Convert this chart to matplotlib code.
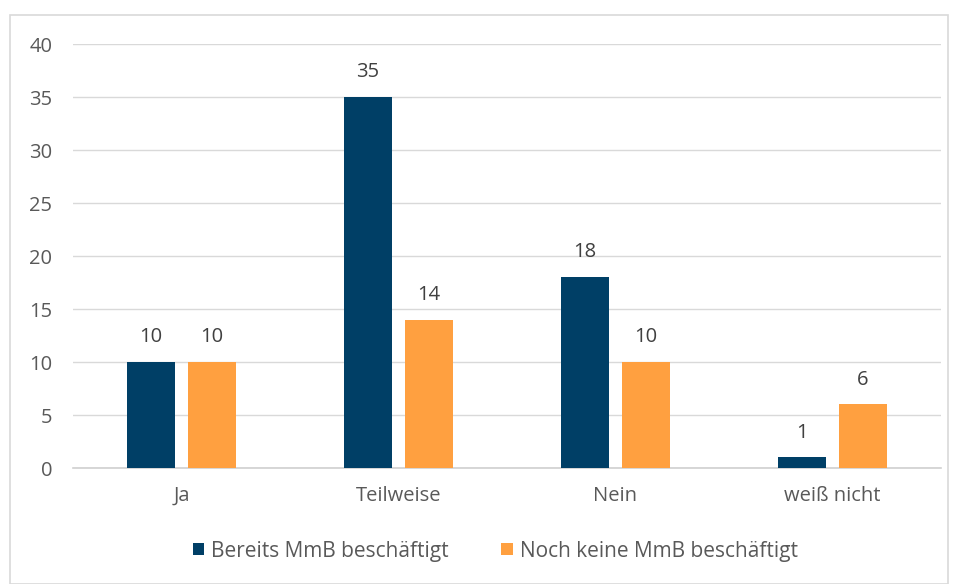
import matplotlib.pyplot as plt
import matplotlib.patches as mpatches
import numpy as np

# Daten
kategorien = ["Ja", "Teilweise", "Nein", "weiß nicht"]
bereits = [10, 35, 18, 1]
noch_keine = [10, 14, 10, 6]
serien = ["Bereits MmB beschäftigt", "Noch keine MmB beschäftigt"]

blau = "#003F66"
orange = "#FFA040"
grau = "#595959"

plt.rcParams['font.family'] = ['Open Sans', 'DejaVu Sans']
fs = 14.5

fig = plt.figure(figsize=(9.58, 5.84), dpi=100)
ax = fig.add_axes([0.0762, 0.1986, 0.906, 0.726])

# Rahmen um das Diagramm
fig.patches.append(mpatches.Rectangle((10 / 958, 0), 938 / 958, 1 - 15 / 584,
                                      transform=fig.transFigure, fill=False,
                                      edgecolor="#D9D9D9", linewidth=1.2))

x = np.arange(len(kategorien))
b = 0.221
off = 0.14
bars1 = ax.bar(x - off, bereits, b, color=blau, label=serien[0], zorder=3)
bars2 = ax.bar(x + off, noch_keine, b, color=orange, label=serien[1], zorder=3)

for bars in (bars1, bars2):
    for r in bars:
        ax.text(r.get_x() + r.get_width() / 2, r.get_height() + 1.4, str(int(r.get_height())),
                ha="center", va="bottom", fontsize=fs, color="#404040")

ax.set_xlim(-0.5, 3.5)
ax.set_ylim(0, 40)
ax.set_yticks(range(0, 41, 5))
ax.set_xticks(x)
ax.set_xticklabels(kategorien)
ax.tick_params(axis="both", length=0, labelsize=fs, labelcolor=grau)
ax.tick_params(axis="x", pad=13)
ax.tick_params(axis="y", pad=15)
ax.grid(axis="y", color="#D9D9D9", linewidth=1, zorder=0)
for s in ["top", "right", "left"]:
    ax.spines[s].set_visible(False)
ax.spines["bottom"].set_color("#D0D0D0")
ax.spines["bottom"].set_linewidth(1.2)

fig.legend(loc="center", bbox_to_anchor=(0.517, 1 - 551 / 584), ncol=2, frameon=False,
           fontsize=15, labelcolor=grau, handlelength=0.55, handleheight=0.55,
           handletextpad=0.35, columnspacing=2.5)

fig.savefig("out.png", dpi=100)
